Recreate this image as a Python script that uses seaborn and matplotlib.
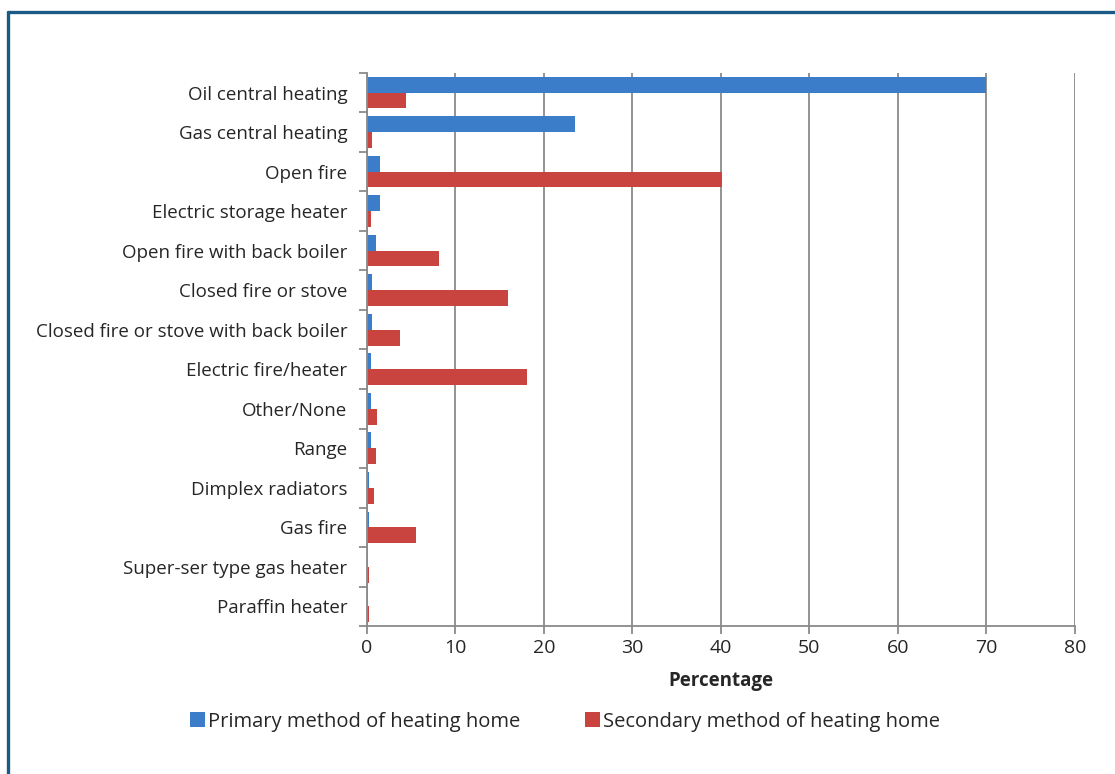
import seaborn as sns
import matplotlib.pyplot as plt
import matplotlib.lines as mlines
import pandas as pd

# -------------------------
# Data
# -------------------------

methods = [
    "Oil central heating",
    "Gas central heating",
    "Open fire",
    "Electric storage heater",
    "Open fire with back boiler",
    "Closed fire or stove",
    "Closed fire or stove with back boiler",
    "Electric fire/heater",
    "Other/None",
    "Range",
    "Dimplex radiators",
    "Gas fire",
    "Super-ser type gas heater",
    "Paraffin heater",
]

primary = [70.0, 23.5, 1.5, 1.5, 1.0, 0.6, 0.6, 0.5, 0.5, 0.5, 0.3, 0.3, 0.05, 0.0]
secondary = [4.4, 0.6, 40.1, 0.45, 8.1, 15.9, 3.8, 18.1, 1.1, 1.0, 0.8, 5.5, 0.3, 0.3]

series_names = ["Primary method of heating home", "Secondary method of heating home"]
colors = ["#3B7DC8", "#C9443E"]

df = pd.DataFrame({
    "Method": methods * 2,
    "Percentage": primary + secondary,
    "Series": [series_names[0]] * len(methods) + [series_names[1]] * len(methods),
})

# -------------------------
# Styling
# -------------------------

sns.set_style("white")
plt.rcParams["font.family"] = ["Open Sans", "DejaVu Sans"]

fig = plt.figure(figsize=(11.15, 7.74), dpi=100)
ax = fig.add_axes([0.329, 0.191, 0.635, 0.715])

sns.barplot(
    data=df, y="Method", x="Percentage", hue="Series",
    palette=colors, orient="h", width=0.8, saturation=1,
    linewidth=0, ax=ax, legend=True,
)

ax.set_xlim(0, 80)
ax.set_xticks(range(0, 81, 10))
ax.set_ylim(len(methods) - 0.5, -0.5)
ax.xaxis.grid(True, color="#8a8a8a", linewidth=1.3)
ax.set_axisbelow(True)

for side in ["top", "right"]:
    ax.spines[side].set_visible(False)
for side in ["left", "bottom"]:
    ax.spines[side].set_color("#8a8a8a")
    ax.spines[side].set_linewidth(1.3)

# ticks between categories on the y-axis
ax.set_yticks([i + 0.5 for i in range(-1, len(methods))], minor=True)
ax.tick_params(axis="y", which="major", length=0, labelsize=13.5, pad=14)
ax.tick_params(axis="y", which="minor", length=6, color="#8a8a8a", width=1.3, left=True)
ax.tick_params(axis="x", which="major", length=6, color="#8a8a8a", width=1.3,
               labelsize=14, bottom=True)

ax.set_ylabel("")
ax.set_xlabel("Percentage", fontsize=13.5, fontweight="bold", labelpad=10)

leg = ax.legend(
    loc="upper center", bbox_to_anchor=(0.28, -0.122), ncol=2, frameon=False,
    fontsize=14.5, handlelength=0.75, handleheight=0.75, handletextpad=0.15,
    columnspacing=3.2,
)

# outer frame
frame_color = "#1B5A87"
fig.add_artist(mlines.Line2D([0.0075, 0.0075], [0.0, 0.9845], color=frame_color,
                             linewidth=2.4, transform=fig.transFigure))
fig.add_artist(mlines.Line2D([0.0075, 1.0], [0.9845, 0.9845], color=frame_color,
                             linewidth=2.4, transform=fig.transFigure))

fig.savefig("out.png", dpi=100)
plt.close(fig)
